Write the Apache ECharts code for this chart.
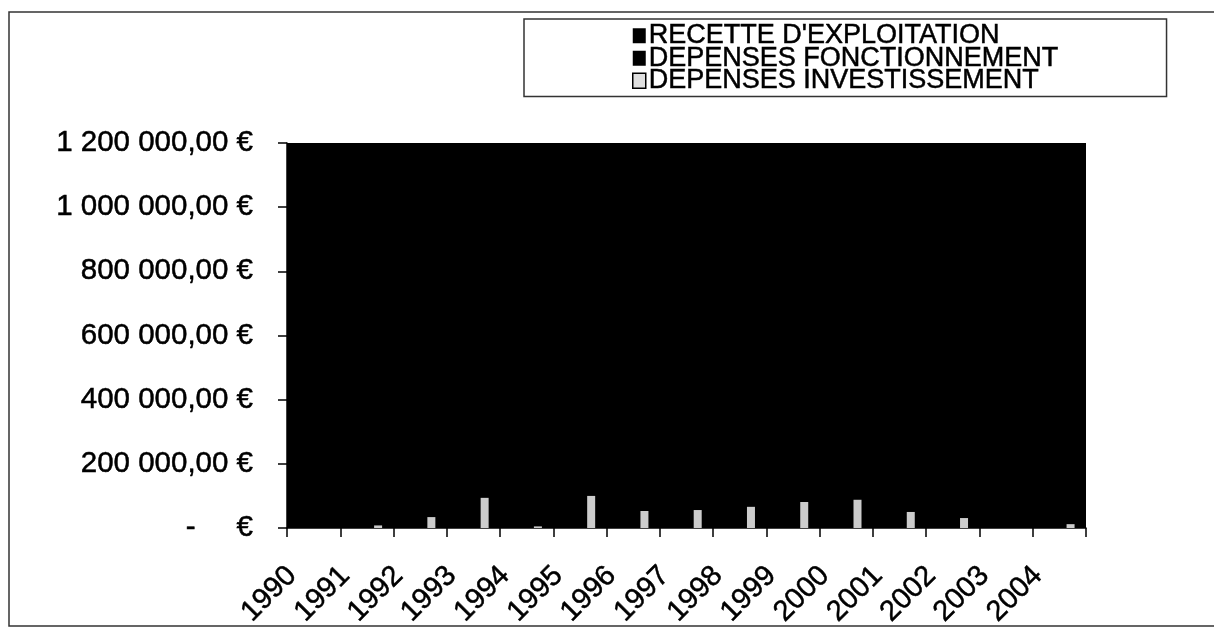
<!DOCTYPE html>
<html>
<head>
<meta charset="utf-8">
<script src="https://cdn.jsdelivr.net/npm/echarts@6/dist/echarts.min.js"></script>
<style>html,body{margin:0;padding:0;background:#fff}#c{width:1214px;height:628px}</style>
</head>
<body>
<div id="c"></div>
<script>
const categories = ['1990','1991','1992','1993','1994','1995','1996','1997','1998','1999','2000','2001','2002','2003','2004'];
const seriesNames = ["RECETTE D'EXPLOITATION", 'DEPENSES FONCTIONNEMENT', 'DEPENSES INVESTISSEMENT'];
// Black bars are drawn black on the black plot area; values estimated
const recette = [620000, 680000, 720000, 780000, 820000, 900000, 1150000, 1180000, 1160000, 1170000, 1190000, 1180000, 1170000, 1000000, 950000];
const fonctionnement = [560000, 600000, 650000, 690000, 740000, 800000, 1050000, 1100000, 1080000, 1090000, 1120000, 1110000, 1100000, 950000, 900000];
const investissement = [0, 8000, 34000, 94000, 5000, 100000, 53000, 56000, 66000, 81000, 88000, 50000, 31000, 0, 12000];
const yTicks = [0, 200000, 400000, 600000, 800000, 1000000, 1200000];

const FONT = "'Liberation Sans', Arial, sans-serif";
function fmt(v) {
  if (v === 0) return '-     €';
  const s = String(Math.round(v)).replace(/\B(?=(\d{3})+(?!\d))/g, ' ');
  return s + ',00 €';
}
const chart = echarts.init(document.getElementById('c'));
chart.setOption({
  animation: false,
  backgroundColor: '#fff',
  graphic: [{
    type: 'rect', shape: {x: 9, y: 12, width: 1215, height: 614},
    style: {fill: 'none', stroke: '#333', lineWidth: 1.5}, z: -1
  }],
  legend: {
    orient: 'vertical', left: 524, top: 19,
    padding: [3, 108, 2, 108],
    borderColor: '#333', borderWidth: 1.5,
    itemWidth: 13, itemHeight: 15, itemGap: -5,
    icon: 'rect',
    textStyle: {fontFamily: FONT, fontSize: 27, color: '#000', padding: [0,0,0,-2],
      textBorderColor: '#000', textBorderWidth: 0.5},
    data: seriesNames.map((n, i) => i === 2
      ? {name: n, itemStyle: {color: '#e0e0e0', borderColor: '#000', borderWidth: 1.5}}
      : {name: n, itemStyle: {color: '#000'}})
  },
  grid: {left: 287, right: 128, top: 143, bottom: 100, show: true, backgroundColor: '#000', borderWidth: 0,
    containLabel: false, outerBoundsMode: 'none'},
  xAxis: {
    type: 'category', data: categories,
    axisLine: {lineStyle: {color: '#000', width: 1.5}},
    axisTick: {show: true, length: 9, lineStyle: {color: '#000', width: 1.5}},
    axisLabel: {interval: 0, rotate: 45, margin: 42, fontFamily: FONT, fontSize: 29, color: '#000',
      verticalAlign: 'bottom',
      formatter: v => v + '\u00a0\u00a0',
      textBorderColor: '#000', textBorderWidth: 0.5}
  },
  yAxis: {
    type: 'value', min: 0, max: 1200000, interval: 200000,
    splitLine: {show: false},
    axisLine: {show: true, lineStyle: {color: '#000', width: 1.5}},
    axisTick: {show: true, length: 9, lineStyle: {color: '#000', width: 1.5}},
    axisLabel: {margin: 34, fontFamily: FONT, fontSize: 29.5, color: '#000',
      textBorderColor: '#000', textBorderWidth: 0.5,
      formatter: v => yTicks.includes(v) ? fmt(v) : ''}
  },
  series: [
    {name: seriesNames[0], type: 'bar', data: recette, barWidth: 8, barGap: '40%', itemStyle: {color: '#000'}},
    {name: seriesNames[1], type: 'bar', data: fonctionnement, barWidth: 8, barGap: '40%', itemStyle: {color: '#000'}},
    {name: seriesNames[2], type: 'bar', data: investissement, barWidth: 8, barGap: '40%', itemStyle: {color: '#cccccc'}}
  ]
});
</script>
</body>
</html>
